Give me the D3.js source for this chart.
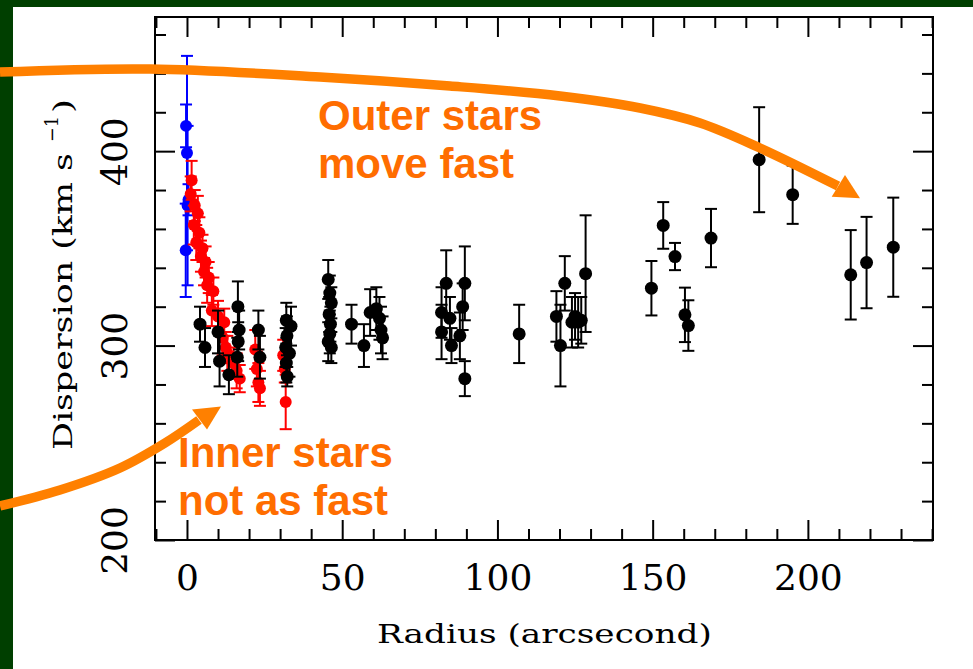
<!DOCTYPE html>
<html><head><meta charset="utf-8">
<script src="https://cdn.jsdelivr.net/npm/d3@7"></script>
<style>body{margin:0;background:#fff}</style>
</head><body>
<svg id="chart" width="973" height="669"></svg>
<script>
// ---- data (radius arcsec, dispersion km/s, error km/s) ----
const bluePoints = [
  [-0.3, 413, 11], [0.0, 399, 50], [0.2, 372, 41], [0.5, 375, 8], [-0.4, 349, 24]
];
const redPoints = [
  [1.5, 385, 10], [1.2, 378, 9], [2.5, 372, 8], [3.5, 368, 9], [2.2, 362, 10],
  [4.0, 358, 8], [3.0, 353, 9], [5.0, 350, 7], [4.5, 346, 8], [6.0, 343, 8],
  [5.5, 338, 7], [7.0, 335, 8], [6.5, 331, 9], [8.5, 328, 7], [8.0, 318, 8],
  [10.0, 315, 8], [12.0, 312, 7], [11.5, 304, 9], [12.5, 299, 8], [13.0, 296, 9],
  [15.0, 291, 8], [16.0, 287, 9], [17.0, 283, 7], [22.0, 298, 10], [22.5, 288, 9],
  [23.0, 281, 10], [23.5, 278, 9], [31.0, 295, 8], [31.5, 288, 7], [31.8, 271, 14]
];
const blackPoints = [
  [4.2, 311, 9], [5.8, 299, 10], [10.0, 307, 11], [10.5, 292, 13], [13.5, 285, 10],
  [16.4, 320, 13], [16.8, 308, 10], [16.5, 302, 10], [16.2, 294, 10],
  [23.0, 308, 10], [23.5, 294, 11],
  [32.0, 313, 9], [32.2, 305, 10], [31.8, 299, 10], [32.0, 291, 10], [32.3, 284, 5],
  [33.5, 310, 10], [33.0, 296, 12],
  [45.5, 334, 10], [46.0, 327, 9], [46.5, 322, 8], [45.8, 316, 9], [46.2, 311, 9],
  [46.0, 306, 10], [45.5, 302, 10], [46.5, 299, 8],
  [53.0, 311, 10], [57.0, 300, 11], [59.0, 317, 12], [61.0, 319, 11], [62.0, 314, 11],
  [62.5, 308, 12], [63.0, 304, 11],
  [83.5, 332, 17], [82.0, 317, 13], [82.0, 307, 14], [84.7, 314, 11], [85.2, 300, 9],
  [89.5, 332, 19], [88.8, 320, 12], [87.9, 305, 12], [89.5, 283, 9],
  [107.0, 306, 15],
  [119.0, 315, 13], [120.3, 300, 21], [121.7, 332, 14], [124.0, 312, 13], [125.0, 315, 12],
  [126.0, 312, 13], [127.0, 313, 12], [128.4, 337, 30],
  [149.6, 329.5, 14], [153.4, 361.8, 12], [157.2, 345.8, 7], [160.4, 315.8, 14],
  [161.5, 310.3, 13], [168.8, 355.3, 15], [184.3, 395.6, 27], [195.1, 377.6, 15],
  [213.8, 336.4, 23], [218.9, 342.7, 23.5], [227.5, 350.6, 25.5]
];
const xMajorTicks = [0, 50, 100, 150, 200];
const xMinorTicks = [-10, 10, 20, 30, 40, 60, 70, 80, 90, 110, 120, 130, 140, 160, 170, 180, 190, 210, 220, 230, 240];
const yMajorTicks = [200, 300, 400];
const yMinorTicks = [220, 240, 260, 280, 320, 340, 360, 380, 420, 440, 460];
const xTitle = "Radius (arcsecond)";
const yTitle = "Dispersion (km s";
const yTitleSup = "\u22121";
const yTitleEnd = ")";
const notes = [["Outer stars", "move fast"], ["Inner stars", "not as fast"]];

// ---- layout ----
const L = 155, R = 933, T = 17, B = 540;
const svg = d3.select("#chart");
svg.append("rect").attr("width", 973).attr("height", 669).attr("fill", "#fff");
svg.append("rect").attr("width", 973).attr("height", 7).attr("fill", "#003f00");
svg.append("rect").attr("width", 13).attr("height", 669).attr("fill", "#003f00");

const x = d3.scaleLinear().domain([-10.3, 240.3]).range([L, R]);
const y = d3.scaleLinear().domain([200, 469]).range([B, T]);

const axFont = "'DejaVu Serif', 'Liberation Serif', serif";

function styleAxis(g) {
  g.select(".domain").remove();
  g.selectAll(".tick line").attr("stroke", "#000").attr("stroke-width", 2);
  g.selectAll("text").attr("fill", "#000").attr("font-family", axFont)
    .attr("font-size", 36);
}
// bottom
svg.append("g").attr("transform", `translate(0,${B})`)
  .call(d3.axisBottom(x).tickValues(xMajorTicks).tickSize(-20).tickPadding(24).tickFormat(d3.format("d")))
  .call(styleAxis);
svg.append("g").attr("transform", `translate(0,${B})`)
  .call(d3.axisBottom(x).tickValues(xMinorTicks).tickSize(-11).tickFormat(""))
  .call(styleAxis);
// top
svg.append("g").attr("transform", `translate(0,${T})`)
  .call(d3.axisTop(x).tickValues(xMajorTicks).tickSize(-20).tickFormat(""))
  .call(styleAxis);
svg.append("g").attr("transform", `translate(0,${T})`)
  .call(d3.axisTop(x).tickValues(xMinorTicks).tickSize(-11).tickFormat(""))
  .call(styleAxis);
// left
const gl = svg.append("g").attr("transform", `translate(${L},0)`)
  .call(d3.axisLeft(y).tickValues(yMajorTicks).tickSize(-20).tickFormat(d3.format("d")))
  .call(styleAxis);
gl.selectAll(".tick text")
  .attr("x", null).attr("dy", null).attr("text-anchor", "middle")
  .attr("transform", "translate(-28,0) rotate(-90)");
svg.append("g").attr("transform", `translate(${L},0)`)
  .call(d3.axisLeft(y).tickValues(yMinorTicks).tickSize(-11).tickFormat(""))
  .call(styleAxis);
// right
svg.append("g").attr("transform", `translate(${R},0)`)
  .call(d3.axisRight(y).tickValues(yMajorTicks).tickSize(-20).tickFormat(""))
  .call(styleAxis);
svg.append("g").attr("transform", `translate(${R},0)`)
  .call(d3.axisRight(y).tickValues(yMinorTicks).tickSize(-11).tickFormat(""))
  .call(styleAxis);
// frame
svg.append("rect").attr("x", L).attr("y", T).attr("width", R - L).attr("height", B - T)
  .attr("fill", "none").attr("stroke", "#000").attr("stroke-width", 2);

// titles: serif glyphs stretched horizontally to the wide plotting-font look
function stretchedText(transform, str, size, targetLen) {
  const g = svg.append("g").attr("transform", transform);
  const t = g.append("text").attr("font-family", axFont).attr("font-size", size)
    .attr("fill", "#000").text(str);
  const w = t.node().getComputedTextLength();
  t.attr("transform", `scale(${targetLen / w},1)`);
  return t;
}
stretchedText("translate(377,643)", xTitle, 26, 335);
stretchedText("translate(72,450) rotate(-90)", yTitle, 26, 297);
stretchedText("translate(58,142) rotate(-90)", yTitleSup, 18, 26);
stretchedText("translate(72,113) rotate(-90)", yTitleEnd, 26, 14);

// ---- points with error bars ----
function drawSeries(data, color, lw, cap, rad) {
  const g = svg.append("g");
  const pts = g.selectAll("g").data(data).join("g");
  pts.append("line").attr("x1", d => x(d[0])).attr("x2", d => x(d[0]))
    .attr("y1", d => y(d[1] - d[2])).attr("y2", d => y(d[1] + d[2]))
    .attr("stroke", color).attr("stroke-width", lw);
  [-1, 1].forEach(s => {
    pts.append("line").attr("x1", d => x(d[0]) - cap / 2).attr("x2", d => x(d[0]) + cap / 2)
      .attr("y1", d => y(d[1] + s * d[2])).attr("y2", d => y(d[1] + s * d[2]))
      .attr("stroke", color).attr("stroke-width", lw);
  });
  pts.append("circle").attr("cx", d => x(d[0])).attr("cy", d => y(d[1])).attr("r", rad).attr("fill", color);
}
drawSeries(bluePoints, "#0000ff", 2, 12, 6);
drawSeries(redPoints, "#ff0000", 2, 12, 6);
drawSeries(blackPoints, "#000", 2, 12, 6.5);

// ---- annotations ----
const orange = "#ff8000";
const arrows = [
  { path: [[0,72],[150,69],[320,77],[450,86],[560,96],[640,108],[700,123],[760,148],[838,186]],
    head: [[831.7,196.7],[845,175],[860,198.3]] },
  { path: [[0,506],[60,490],[120,468],[165,443],[199,420]],
    head: [[192,409.5],[207,429.5],[221,406.5]] }
];
const line = d3.line().curve(d3.curveCatmullRom);
arrows.forEach(a => {
  svg.append("path").attr("d", line(a.path)).attr("fill", "none")
    .attr("stroke", orange).attr("stroke-width", 9.5);
  svg.append("polygon").attr("points", a.head.map(p => p.join(",")).join(" ")).attr("fill", orange);
});
const noteFont = "'Liberation Sans', Arial, sans-serif";
const notePos = [[318, 130], [178, 467]];
notes.forEach((lines, i) => {
  lines.forEach((t, j) => {
    svg.append("text").attr("x", notePos[i][0]).attr("y", notePos[i][1] + j * 48)
      .attr("font-family", noteFont).attr("font-weight", "bold").attr("font-size", 42)
      .attr("fill", "#ff6d00").text(t);
  });
});
</script>
</body></html>
